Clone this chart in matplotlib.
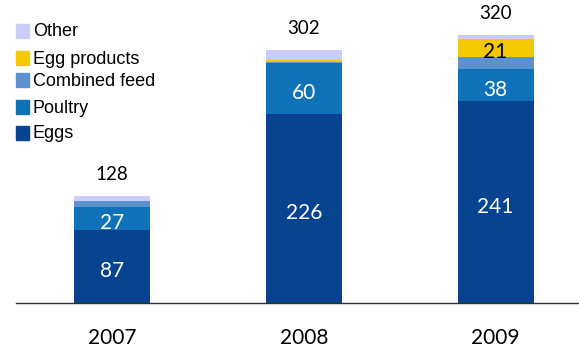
import matplotlib
matplotlib.use("Agg")
import matplotlib.pyplot as plt
from matplotlib.patches import Rectangle
from matplotlib.transforms import offset_copy

years = ["2007", "2008", "2009"]
eggs = [87, 226, 241]
poultry = [27, 60, 38]
combined_feed = [8, 2, 15]
egg_products = [0, 2, 21]
other = [6, 12, 5]
totals = [128, 302, 320]

series = [
    ("Eggs", eggs, "#07438f"),
    ("Poultry", poultry, "#0f72b8"),
    ("Combined feed", combined_feed, "#5b91cd"),
    ("Egg products", egg_products, "#f4c900"),
    ("Other", other, "#ccccf8"),
]
labelled = {"Eggs": "white", "Poultry": "white", "Egg products": "black"}

num_font = "Lato"
DPI = 100
fig = plt.figure(figsize=(5.79, 3.49), dpi=DPI)
ax = fig.add_axes([0.0276, 0.1318, 0.9724, 0.8682])


def px(n):
    # pixel distance expressed in points
    return n * 72.0 / DPI


inner_tr = offset_copy(ax.transData, fig=fig, y=-px(10.5), units="points")
total_tr = offset_copy(ax.transData, fig=fig, y=px(16), units="points")
year_tr = offset_copy(ax.get_xaxis_transform(), fig=fig, y=-px(41), units="points")

x = list(range(len(years)))
bottoms = [0] * len(years)
for name, vals, color in series:
    ax.bar(x, vals, width=0.396, bottom=bottoms, color=color, edgecolor="none")
    if name in labelled:
        for i, v in enumerate(vals):
            if v >= 15:
                ax.text(i, bottoms[i] + v / 2, str(v), ha="center", va="baseline",
                        fontsize=15, color=labelled[name], family=num_font,
                        transform=inner_tr)
    bottoms = [b + v for b, v in zip(bottoms, vals)]

for i, t in enumerate(totals):
    ax.text(i, t, str(t), ha="center", va="baseline", fontsize=13.5,
            color="black", family=num_font, transform=total_tr)

for i, yr in enumerate(years):
    ax.text(i, 0, yr, ha="center", va="baseline", fontsize=15,
            color="black", family=num_font, transform=year_tr)

ax.set_xlim(-0.5, 2.435)
ax.set_ylim(0, 361.6)
for s in ["top", "right", "left"]:
    ax.spines[s].set_visible(False)
ax.spines["bottom"].set_color("#333333")
ax.spines["bottom"].set_linewidth(1.0)
ax.set_yticks([])
ax.set_xticks([])

# legend drawn as swatches with labels, top item first
legend_items = [("Other", 31), ("Egg products", 58), ("Combined feed", 80),
                ("Poultry", 107), ("Eggs", 133)]
colors = {n: c for n, _, c in series}
for name, ypx in legend_items:
    fig.patches.append(Rectangle((16 / 579, 1 - (ypx + 6.5) / 349), 13 / 579, 13 / 349,
                                 transform=fig.transFigure, color=colors[name]))
    fig.text(33 / 579, 1 - (ypx + 1) / 349, name, ha="left", va="center", fontsize=13,
             family="Liberation Sans", color="black")

fig.savefig("out.png", dpi=DPI)
